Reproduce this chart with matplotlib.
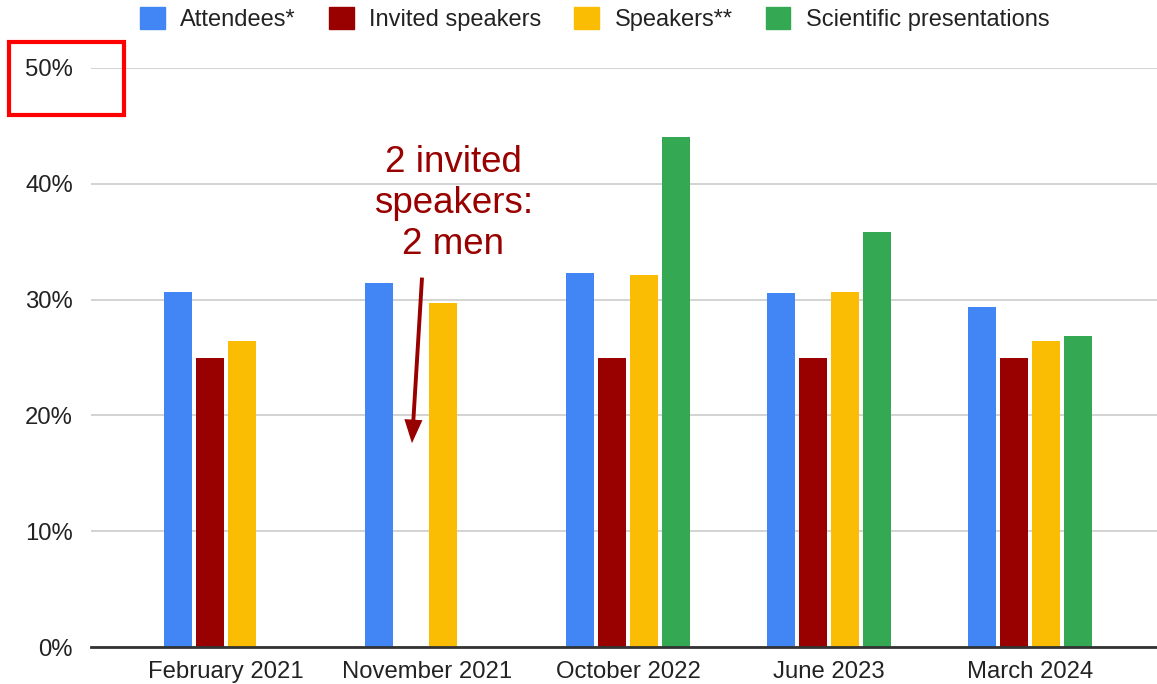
import matplotlib
matplotlib.use("Agg")

import matplotlib.pyplot as plt
import matplotlib.patches as mpatches
import numpy as np

plt.rcParams["font.family"] = ["Liberation Sans", "DejaVu Sans"]

# ---------------------------------------------------------------------------
# Datos
# ---------------------------------------------------------------------------
events = ["February 2021", "November 2021", "October 2022", "June 2023", "March 2024"]
series_names = ["Attendees*", "Invited speakers", "Speakers**", "Scientific presentations"]

attendees = [30.7, 31.4, 32.3, 30.6, 29.4]
invited_speakers = [25.0, 0.0, 25.0, 25.0, 25.0]
speakers = [26.4, 29.7, 32.1, 30.7, 26.4]
scientific = [np.nan, np.nan, 44.0, 35.8, 26.9]

yticks = [0, 10, 20, 30, 40, 50]

COLORS = ["#4285f4", "#990000", "#fbbc04", "#34a853"]
ANNOT_RED = "#990000"
TEXT = "#222222"

# ---------------------------------------------------------------------------
# Figura
# ---------------------------------------------------------------------------
fig = plt.figure(figsize=(11.57, 6.84), dpi=100, facecolor="white")
ax = fig.add_axes([91 / 1157, 0.054, 1 - 91 / 1157, 0.8466])

x = np.arange(len(events))
width = 0.14
step = 0.16
all_series = [attendees, invited_speakers, speakers, scientific]
for i, (vals, color) in enumerate(zip(all_series, COLORS)):
    offset = (i - 1.5) * step
    ax.bar(x + offset, vals, width=width, color=color, zorder=3, linewidth=0)

ax.set_xlim(-0.672, 4.632)
ax.set_ylim(0, 50)
ax.set_yticks(yticks)
ax.set_yticklabels([f"{t}%" for t in yticks])
ax.set_xticks(x)
ax.set_xticklabels(events)
ax.tick_params(axis="both", length=0, labelsize=17.2, colors=TEXT)
ax.tick_params(axis="y", pad=13)
ax.tick_params(axis="x", pad=10)

ax.grid(axis="y", color="#cccccc", lw=1.2, zorder=0)
for s in ["top", "right", "left"]:
    ax.spines[s].set_visible(False)
ax.spines["bottom"].set_color("#333333")
ax.spines["bottom"].set_linewidth(2)
ax.spines["bottom"].set_zorder(4)

# Leyenda
handles = [mpatches.Patch(color=c) for c in COLORS]
fig.legend(handles, series_names, loc="center", bbox_to_anchor=(0.514, 1 - 19 / 684),
           ncol=4, frameon=False, fontsize=17, handlelength=1.05, handleheight=1.05,
           handletextpad=0.65, columnspacing=1.4, labelcolor=TEXT,
           borderpad=0, borderaxespad=0)

# Anotación
ax.text(1.13, 38.3, "2 invited\nspeakers:\n2 men", ha="center", va="center",
        color=ANNOT_RED, fontsize=26.5, linespacing=1.22, zorder=6)
ax.annotate("", xy=(0.925, 17.6), xytext=(0.975, 31.9),
            arrowprops=dict(width=2.8, headwidth=13, headlength=17,
                            color=ANNOT_RED, lw=0, shrink=0),
            zorder=6)

# Recuadro rojo alrededor de 50%
fig.patches.append(mpatches.Rectangle((9 / 1157, 1 - 115 / 684), 115 / 1157, 73 / 684,
                                      transform=fig.transFigure, fill=False,
                                      edgecolor="#ff0000", lw=3))

fig.savefig("out.png", dpi=100, facecolor="white")
plt.close(fig)
